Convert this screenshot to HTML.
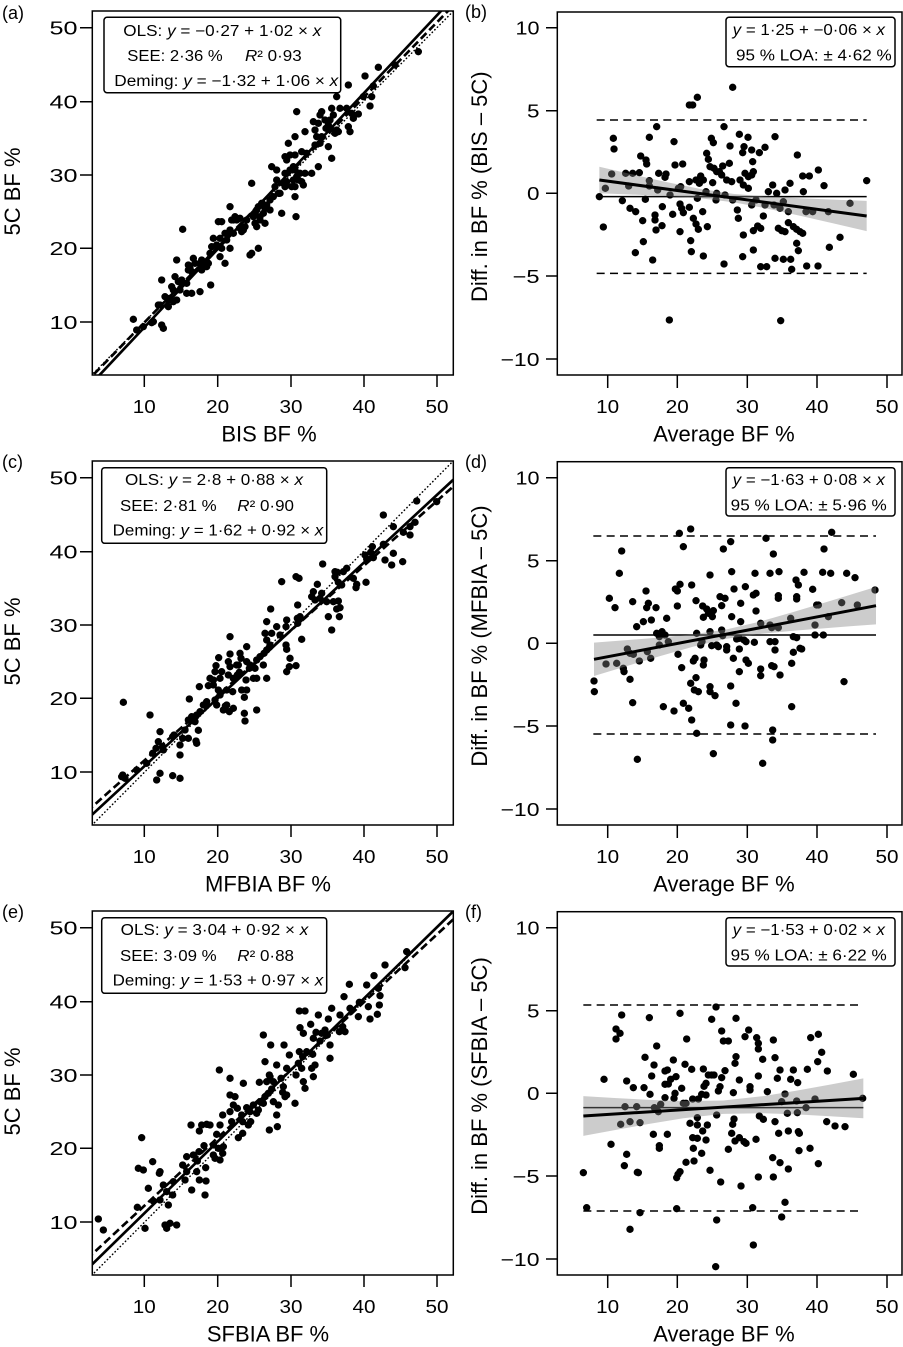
<!DOCTYPE html>
<html><head><meta charset="utf-8"><style>html,body{margin:0;padding:0;background:#fff}svg{display:block}</style></head>
<body>
<svg xmlns="http://www.w3.org/2000/svg" width="903" height="1347" viewBox="0 0 903 1347" font-family="'Liberation Sans', Arial, Helvetica, sans-serif">
<rect width="903" height="1347" fill="#fff"/>
<defs>
<clipPath id="cl1"><rect x="277" y="33" width="1083" height="1092"/></clipPath>
<clipPath id="cl2"><rect x="278" y="48" width="1080" height="1092"/></clipPath>
</defs>

<!-- ===== Panel (a) ===== -->
<g transform="scale(0.333333)">
<path fill="none" stroke="#000" stroke-width="22" stroke-linecap="round" d="M1255 155h.1M1185 195h.1M1135 202h.1M1095 228h.1M1045 255h.1M1120 258h.1M1115 290h.1M1110 318h.1M1075 342h.1M1090 290h.1M1010 290h.1M1020 325h.1M1040 325h.1M1055 340h.1M1050 395h.1M1060 355h.1M1045 380h.1M995 325h.1M1000 345h.1M965 335h.1M960 345h.1M975 360h.1M985 375h.1M990 360h.1M1010 390h.1M1015 395h.1M1005 400h.1M978 385h.1M955 370h.1M945 390h.1M940 365h.1M950 410h.1M965 410h.1M960 430h.1M945 435h.1M985 440h.1M995 475h.1M955 500h.1M935 520h.1M915 395h.1M890 335h.1M885 410h.1M865 430h.1M920 460h.1M905 455h.1M885 465h.1M870 465h.1M860 480h.1M855 470h.1M880 500h.1M870 510h.1M885 510h.1M890 530h.1M900 520h.1M905 545h.1M910 555h.1M915 520h.1M895 540h.1M880 540h.1M875 560h.1M885 560h.1M885 590h.1M888 650h.1M855 520h.1M850 550h.1M855 560h.1M860 545h.1M830 540h.1M825 560h.1M815 500h.1M830 510h.1M840 580h.1M845 640h.1M835 580h.1M820 590h.1M810 600h.1M800 615h.1M810 630h.1M795 625h.1M790 640h.1M785 610h.1M775 620h.1M780 650h.1M770 630h.1M765 640h.1M755 550h.1M760 650h.1M765 670h.1M780 660h.1M795 670h.1M770 680h.1M755 760h.1M750 765h.1M775 745h.1M740 660h.1M735 680h.1M730 690h.1M725 695h.1M720 685h.1M720 655h.1M710 660h.1M700 660h.1M705 650h.1M695 660h.1M690 620h.1M690 690h.1M685 700h.1M700 700h.1M690 745h.1M680 720h.1M675 700h.1M665 745h.1M660 715h.1M655 665h.1M665 665h.1M650 735h.1M660 770h.1M675 790h.1M640 715h.1M635 740h.1M630 760h.1M625 790h.1M620 800h.1M615 795h.1M605 780h.1M600 790h.1M605 810h.1M585 790h.1M580 775h.1M575 815h.1M570 805h.1M565 795h.1M565 810h.1M560 850h.1M548 688h.1M545 840h.1M530 780h.1M535 845h.1M525 830h.1M520 870h.1M510 895h.1M515 860h.1M505 920h.1M495 890h.1M485 840h.1M480 915h.1M475 915h.1M460 965h.1M485 975h.1M490 985h.1M455 968h.1M430 980h.1M410 990h.1M400 958h.1M600 875h.1M632 855h.1M575 880h.1M560 880h.1M540 870h.1M530 900h.1M520 905h.1M505 900h.1"/>
<g clip-path="url(#cl1)" fill="none" stroke="#000">
<line x1="257.4" y1="1142.6" x2="1398.8" y2="-5.5" stroke-width="4.5" stroke-dasharray="1 10" stroke-linecap="round"/>
<line x1="257.4" y1="1147.7" x2="1398.8" y2="-23.4" stroke-width="8" stroke-dasharray="24 12"/>
<line x1="257.4" y1="1169.1" x2="1398.8" y2="-47.9" stroke-width="8"/>
</g>
</g>

<!-- ===== Panel (c) ===== -->
<g transform="translate(0,445) scale(0.333333)">
<path fill="none" stroke="#000" stroke-width="22" stroke-linecap="round" d="M1150 210h.1M1250 168h.1M1310 170h.1M1230 270h.1M1245 232h.1M1230 245h.1M1180 245h.1M1210 262h.1M1150 298h.1M1117 305h.1M1112 322h.1M1100 342h.1M1095 330h.1M1120 338h.1M1180 325h.1M1155 345h.1M1175 360h.1M1208 350h.1M1098 412h.1M1070 418h.1M1068 428h.1M1060 400h.1M1040 370h.1M1030 380h.1M1012 382h.1M1005 395h.1M1015 412h.1M1025 420h.1M968 357h.1M952 418h.1M940 440h.1M965 445h.1M935 455h.1M945 465h.1M1005 380h.1M1010 492h.1M1020 488h.1M1018 515h.1M995 555h.1M985 515h.1M1000 470h.1M1015 468h.1M980 470h.1M960 460h.1M845 410h.1M888 395h.1M897 400h.1M893 480h.1M892 520h.1M893 535h.1M900 515h.1M905 583h.1M888 662h.1M868 665h.1M860 680h.1M870 640h.1M860 613h.1M858 600h.1M860 525h.1M858 545h.1M840 570h.1M830 545h.1M815 565h.1M812 492h.1M800 530h.1M795 565h.1M800 585h.1M810 600h.1M808 607h.1M800 615h.1M792 625h.1M780 635h.1M770 645h.1M765 670h.1M790 660h.1M800 700h.1M770 700h.1M760 700h.1M748 670h.1M750 660h.1M740 605h.1M740 650h.1M738 705h.1M725 735h.1M740 735h.1M733 757h.1M733 805h.1M735 828h.1M770 795h.1M718 682h.1M715 660h.1M710 660h.1M712 690h.1M700 700h.1M690 665h.1M685 690h.1M680 735h.1M660 700h.1M665 680h.1M685 650h.1M690 627h.1M690 575h.1M720 625h.1M723 640h.1M698 740h.1M700 790h.1M680 780h.1M688 800h.1M670 795h.1M660 750h.1M655 735h.1M645 765h.1M650 780h.1M640 720h.1M630 700h.1M656 638h.1M648 662h.1M645 680h.1M640 705h.1M625 722h.1M620 770h.1M610 780h.1M600 800h.1M590 810h.1M585 830h.1M595 856h.1M598 725h.1M575 815h.1M565 825h.1M565 880h.1M588 888h.1M590 895h.1M555 855h.1M548 880h.1M540 930h.1M540 900h.1M522 870h.1M518 875h.1M480 860h.1M475 890h.1M488 905h.1M490 915h.1M468 910h.1M458 925h.1M440 955h.1M410 975h.1M368 990h.1M375 1000h.1M365 995h.1M370 772h.1M450 810h.1M470 1005h.1M480 985h.1M518 992h.1M540 1000h.1M568 762h.1M676 783h.1"/>
<g clip-path="url(#cl2)" fill="none" stroke="#000">
<line x1="260" y1="1156.4" x2="1397.5" y2="9.8" stroke-width="4.5" stroke-dasharray="1 10" stroke-linecap="round"/>
<line x1="260" y1="1100" x2="1397.5" y2="90.9" stroke-width="8" stroke-dasharray="24 12"/>
<line x1="260" y1="1124.2" x2="1397.5" y2="69.3" stroke-width="8"/>
</g>
</g>

<!-- ===== Panel (e) ===== -->
<g transform="translate(0,895) scale(0.333333)">
<path fill="none" stroke="#000" stroke-width="22" stroke-linecap="round" d="M1220 170h.1M1215 218h.1M1155 210h.1M1122 242h.1M1135 280h.1M1140 302h.1M1138 330h.1M1132 358h.1M1105 335h.1M1110 372h.1M1100 270h.1M1048 268h.1M1032 305h.1M1078 322h.1M1075 365h.1M1050 340h.1M1020 360h.1M1028 395h.1M1035 410h.1M1018 410h.1M995 340h.1M985 372h.1M990 450h.1M990 490h.1M975 405h.1M955 360h.1M948 412h.1M940 430h.1M960 438h.1M965 415h.1M982 420h.1M915 348h.1M898 348h.1M900 398h.1M910 415h.1M932 388h.1M908 485h.1M905 520h.1M910 560h.1M915 580h.1M935 520h.1M945 510h.1M940 545h.1M938 478h.1M920 470h.1M898 470h.1M895 505h.1M888 540h.1M885 625h.1M868 480h.1M852 450h.1M850 575h.1M855 605h.1M860 600h.1M848 592h.1M860 520h.1M843 550h.1M820 560h.1M830 510h.1M812 450h.1M790 420h.1M795 500h.1M800 560h.1M808 540h.1M815 582h.1M805 595h.1M795 605h.1M790 625h.1M820 620h.1M835 630h.1M830 660h.1M832 695h.1M808 705h.1M810 545h.1M780 620h.1M775 645h.1M770 655h.1M760 630h.1M750 650h.1M740 638h.1M778 562h.1M752 680h.1M745 690h.1M728 680h.1M728 715h.1M715 728h.1M730 565h.1M725 660h.1M712 640h.1M700 630h.1M695 680h.1M690 650h.1M690 600h.1M705 605h.1M690 550h.1M658 525h.1M668 660h.1M660 690h.1M650 718h.1M655 760h.1M640 750h.1M640 780h.1M660 795h.1M668 775h.1M670 755h.1M645 790h.1M630 690h.1M620 688h.1M605 690h.1M598 708h.1M612 752h.1M597 770h.1M592 798h.1M573 690h.1M580 780h.1M590 830h.1M617 818h.1M598 855h.1M618 858h.1M615 900h.1M575 885h.1M560 830h.1M555 855h.1M548 810h.1M560 785h.1M520 860h.1M518 900h.1M500 890h.1M490 870h.1M505 930h.1M510 985h.1M495 990h.1M480 915h.1M460 918h.1M445 880h.1M430 825h.1M415 820h.1M425 728h.1M480 830h.1M458 800h.1M478 835h.1M412 937h.1M435 1000h.1M295 972h.1M310 1005h.1M500 1000h.1M530 990h.1"/>
<g clip-path="url(#cl2)" fill="none" stroke="#000">
<line x1="260" y1="1156.4" x2="1397.5" y2="9.8" stroke-width="4.5" stroke-dasharray="1 10" stroke-linecap="round"/>
<line x1="260" y1="1092.9" x2="1397.5" y2="38" stroke-width="8" stroke-dasharray="24 12"/>
<line x1="260" y1="1124" x2="1397.5" y2="11.8" stroke-width="8"/>
</g>
</g>

<!-- ===== Panel (b) ===== -->
<g transform="translate(450,0) scale(0.333333)">
<g fill="none" stroke="#000" stroke-width="4.5">
<line x1="440" y1="590" x2="1250" y2="590"/>
<line x1="440" y1="360" x2="1250" y2="360" stroke-dasharray="24 16"/>
<line x1="440" y1="820" x2="1250" y2="820" stroke-dasharray="24 16"/>
</g>
<path fill="none" stroke="#000" stroke-width="22" stroke-linecap="round" d="M848 262h.1M742 292h.1M718 315h.1M728 315h.1M822 380h.1M620 380h.1M598 412h.1M490 415h.1M672 425h.1M784 415h.1M790 428h.1M868 403h.1M894 412h.1M975 410h.1M840 438h.1M882 440h.1M945 442h.1M492 447h.1M572 468h.1M588 480h.1M590 492h.1M770 460h.1M775 478h.1M928 458h.1M878 458h.1M905 450h.1M1042 465h.1M908 485h.1M675 495h.1M698 492h.1M780 500h.1M792 505h.1M818 498h.1M838 490h.1M800 515h.1M808 515h.1M910 515h.1M885 520h.1M895 530h.1M905 525h.1M1105 510h.1M1058 528h.1M1078 528h.1M1122 557h.1M485 522h.1M527 520h.1M548 520h.1M568 518h.1M626 520h.1M648 522h.1M645 532h.1M598 542h.1M598 558h.1M718 545h.1M738 540h.1M752 528h.1M760 540h.1M748 550h.1M788 548h.1M815 525h.1M830 540h.1M845 545h.1M870 540h.1M880 555h.1M895 565h.1M968 555h.1M1020 550h.1M1005 570h.1M955 575h.1M980 580h.1M1060 575h.1M448 590h.1M466 565h.1M536 558h.1M517 602h.1M586 598h.1M623 570h.1M660 585h.1M685 565h.1M692 560h.1M742 595h.1M768 575h.1M800 580h.1M798 600h.1M825 585h.1M848 600h.1M862 630h.1M865 655h.1M918 600h.1M905 615h.1M945 615h.1M972 615h.1M1000 605h.1M990 625h.1M1015 635h.1M1068 635h.1M1088 635h.1M1135 635h.1M1200 610h.1M1250 542h.1M540 625h.1M557 635h.1M578 662h.1M615 645h.1M615 660h.1M618 690h.1M636 677h.1M637 620h.1M668 643h.1M690 612h.1M695 625h.1M700 638h.1M718 622h.1M730 655h.1M738 672h.1M745 688h.1M758 635h.1M772 680h.1M722 722h.1M724 755h.1M690 695h.1M608 780h.1M580 725h.1M556 758h.1M460 681h.1M880 705h.1M910 692h.1M923 678h.1M932 685h.1M940 648h.1M985 685h.1M995 692h.1M1005 695h.1M1015 668h.1M1030 680h.1M1040 688h.1M1050 695h.1M1058 700h.1M1040 730h.1M1045 752h.1M1170 712h.1M1138 742h.1M878 770h.1M910 750h.1M975 775h.1M1000 778h.1M1022 778h.1M760 768h.1M822 792h.1M932 800h.1M950 800h.1M1025 808h.1M1070 798h.1M1104 798h.1M658 960h.1M992 962h.1"/>
<polygon fill="#808080" fill-opacity="0.4" points="448,500.2 550,523.7 650,546.2 750,566.7 850,581.8 950,589.7 1050,594.8 1150,598.9 1250,602.5 1250,693.5 1150,670.3 1050,647.4 950,625.5 850,606.6 750,594.7 650,588.2 550,583.7 448,579.8"/>
<line x1="448" y1="540" x2="1250" y2="648" stroke="#000" stroke-width="9"/>
</g>

<!-- ===== Panel (d) ===== -->
<g transform="translate(450,445) scale(0.333333)">
<g fill="none" stroke="#000" stroke-width="4.5">
<line x1="430" y1="570" x2="1278" y2="570"/>
<line x1="430" y1="273" x2="1278" y2="273" stroke-dasharray="24 16"/>
<line x1="430" y1="867" x2="1278" y2="867" stroke-dasharray="24 16"/>
</g>
<path fill="none" stroke="#000" stroke-width="22" stroke-linecap="round" d="M722 252h.1M688 265h.1M948 280h.1M1145 262h.1M700 305h.1M820 312h.1M842 290h.1M515 318h.1M970 327h.1M1122 312h.1M508 385h.1M780 390h.1M845 380h.1M915 385h.1M960 385h.1M987 380h.1M1062 382h.1M1118 382h.1M1142 385h.1M1190 385h.1M1215 398h.1M1275 435h.1M1175 473h.1M1222 480h.1M478 460h.1M495 488h.1M548 470h.1M588 438h.1M595 475h.1M590 488h.1M618 488h.1M604 525h.1M580 530h.1M560 545h.1M650 520h.1M636 560h.1M628 575h.1M645 570h.1M655 590h.1M628 600h.1M676 432h.1M682 438h.1M690 418h.1M725 420h.1M682 483h.1M738 467h.1M758 483h.1M770 492h.1M790 497h.1M760 517h.1M787 515h.1M775 505h.1M810 455h.1M825 460h.1M815 482h.1M845 515h.1M852 432h.1M872 475h.1M886 425h.1M918 445h.1M918 498h.1M872 530h.1M815 555h.1M818 572h.1M800 600h.1M785 602h.1M805 605h.1M780 560h.1M740 565h.1M756 590h.1M752 600h.1M830 605h.1M830 615h.1M850 640h.1M860 582h.1M868 580h.1M882 585h.1M932 535h.1M960 540h.1M965 548h.1M960 590h.1M975 590h.1M985 548h.1M985 460h.1M985 452h.1M1022 520h.1M1030 575h.1M1040 578h.1M1040 455h.1M1038 405h.1M1045 420h.1M1040 462h.1M1050 610h.1M1055 612h.1M1030 622h.1M1025 655h.1M1088 433h.1M1100 480h.1M1105 480h.1M1095 540h.1M1095 570h.1M1120 570h.1M1135 515h.1M990 690h.1M975 615h.1M972 665h.1M965 662h.1M932 672h.1M932 692h.1M913 592h.1M888 590h.1M888 645h.1M895 655h.1M868 680h.1M868 612h.1M842 723h.1M858 775h.1M842 840h.1M885 843h.1M938 955h.1M968 855h.1M968 885h.1M790 926h.1M740 865h.1M725 825h.1M716 790h.1M700 775h.1M672 798h.1M640 785h.1M548 773h.1M540 703h.1M522 680h.1M520 670h.1M500 655h.1M468 657h.1M432 708h.1M433 740h.1M568 648h.1M550 628h.1M532 612h.1M540 625h.1M592 620h.1M602 640h.1M620 565h.1M684 628h.1M695 668h.1M735 640h.1M730 648h.1M738 698h.1M733 735h.1M722 715h.1M745 740h.1M762 645h.1M760 660h.1M780 725h.1M780 740h.1M795 752h.1M1025 785h.1M1182 710h.1M562 943h.1M910 450h.1"/>
<polygon fill="#808080" fill-opacity="0.4" points="432,592.9 530,585.5 630,577.4 730,567.9 830,553.3 930,529.7 1030,501.1 1130,471.1 1200,449.7 1278,425.8 1278,538.2 1200,543.9 1130,549.3 1030,557.3 930,566.9 830,581.3 730,604.7 630,633.2 530,663.3 432,693.1"/>
<line x1="432" y1="643" x2="1278" y2="482" stroke="#000" stroke-width="9"/>
</g>

<!-- ===== Panel (f) ===== -->
<g transform="translate(450,895) scale(0.333333)">
<g fill="none" stroke="#000" stroke-width="4.5">
<line x1="400" y1="638" x2="1240" y2="638"/>
<line x1="400" y1="330" x2="1225" y2="330" stroke-dasharray="24 16"/>
<line x1="400" y1="948" x2="1225" y2="948" stroke-dasharray="24 16"/>
</g>
<path fill="none" stroke="#000" stroke-width="22" stroke-linecap="round" d="M798 336h.1M690 355h.1M515 360h.1M598 368h.1M785 373h.1M858 370h.1M498 402h.1M510 415h.1M498 432h.1M815 408h.1M896 405h.1M885 425h.1M920 428h.1M925 445h.1M710 432h.1M820 438h.1M835 438h.1M970 435h.1M1082 428h.1M1105 418h.1M620 453h.1M925 462h.1M585 487h.1M858 485h.1M855 505h.1M938 493h.1M975 488h.1M1115 472h.1M1103 500h.1M670 495h.1M612 510h.1M705 508h.1M725 523h.1M760 522h.1M775 540h.1M785 540h.1M792 540h.1M825 527h.1M990 525h.1M1030 525h.1M1072 523h.1M1132 528h.1M1210 538h.1M605 543h.1M645 528h.1M652 525h.1M815 548h.1M868 555h.1M925 543h.1M982 550h.1M1022 553h.1M1043 563h.1M462 553h.1M530 558h.1M550 578h.1M582 578h.1M600 598h.1M662 553h.1M678 545h.1M695 580h.1M645 568h.1M655 567h.1M768 565h.1M762 574h.1M810 575h.1M805 588h.1M850 593h.1M900 575h.1M900 585h.1M952 590h.1M1005 597h.1M1095 612h.1M1238 610h.1M675 595h.1M672 610h.1M645 608h.1M755 598h.1M768 600h.1M745 612h.1M728 612h.1M708 625h.1M525 635h.1M560 635h.1M613 638h.1M632 628h.1M625 650h.1M700 625h.1M995 620h.1M1040 618h.1M1068 638h.1M1012 655h.1M1042 653h.1M742 668h.1M800 660h.1M852 672h.1M928 663h.1M940 673h.1M540 680h.1M512 688h.1M570 683h.1M742 690h.1M772 690h.1M720 685h.1M848 688h.1M845 715h.1M975 680h.1M1130 680h.1M1155 693h.1M1185 695h.1M610 718h.1M652 718h.1M758 708h.1M768 735h.1M742 730h.1M728 728h.1M855 738h.1M868 728h.1M882 740h.1M888 745h.1M918 733h.1M986 715h.1M1015 708h.1M1045 710h.1M1048 715h.1M483 748h.1M628 752h.1M628 760h.1M730 760h.1M755 775h.1M835 763h.1M1047 767h.1M1080 760h.1M530 778h.1M968 788h.1M990 803h.1M1105 806h.1M523 812h.1M708 802h.1M732 798h.1M1015 822h.1M780 826h.1M562 832h.1M565 833h.1M690 830h.1M684 838h.1M680 848h.1M925 846h.1M970 846h.1M812 861h.1M873 873h.1M400 833h.1M410 938h.1M680 941h.1M570 953h.1M908 938h.1M1005 922h.1M995 966h.1M800 975h.1M540 1003h.1M910 1050h.1M797 1115h.1"/>
<polygon fill="#808080" fill-opacity="0.4" points="400,603.2 500,609.3 600,614.7 700,618.4 820,616.5 940,603.2 1040,586.9 1140,568.9 1240,550.2 1240,669.8 1140,663.7 1040,658.3 940,654.6 820,656.5 700,669.8 600,686.1 500,704.1 400,722.8"/>
<line x1="400" y1="663" x2="1240" y2="610" stroke="#000" stroke-width="9"/>
</g>

<!-- ===== Frames and ticks ===== -->
<g fill="none" stroke="#000" stroke-width="1.5">
<rect x="92.3" y="11" width="361" height="364"/>
<rect x="92.3" y="461" width="361" height="364"/>
<rect x="92.3" y="911" width="361" height="364"/>
<rect x="557.3" y="12" width="344.7" height="363"/>
<rect x="557.3" y="461.7" width="344.7" height="363.3"/>
<rect x="557.3" y="911.7" width="344.7" height="363.3"/>
<path d="M80 27.7H92.3M80 101.7H92.3M80 175H92.3M80 248.3H92.3M80 322H92.3
M80 477.7H92.3M80 551.7H92.3M80 625H92.3M80 698.3H92.3M80 772H92.3
M80 927.7H92.3M80 1001.7H92.3M80 1075H92.3M80 1148.3H92.3M80 1222H92.3
M144.3 375V387M217.7 375V387M291 375V387M364 375V387M437 375V387
M144.3 825V837M217.7 825V837M291 825V837M364 825V837M437 825V837
M144.3 1275V1287M217.7 1275V1287M291 1275V1287M364 1275V1287M437 1275V1287
M546 27.7H557.3M546 110.7H557.3M546 193.3H557.3M546 276H557.3M546 359H557.3
M546 477.7H557.3M546 560.7H557.3M546 643.3H557.3M546 726H557.3M546 809H557.3
M546 927.7H557.3M546 1010.7H557.3M546 1093.3H557.3M546 1176H557.3M546 1259H557.3
M607.7 375V388M677.3 375V388M747.3 375V388M817 375V388M887 375V388
M607.7 825V838M677.3 825V838M747.3 825V838M817 825V838M887 825V838
M607.7 1275V1288M677.3 1275V1288M747.3 1275V1288M817 1275V1288M887 1275V1288"/>
<!-- legend boxes -->
<rect x="104" y="17.3" width="236.7" height="75.4" rx="3"/>
<rect x="101.7" y="467.7" width="225" height="75.6" rx="3"/>
<rect x="101.7" y="917.7" width="225" height="75.6" rx="3"/>
<rect x="726" y="17.3" width="169" height="49.4" rx="3"/>
<rect x="726" y="467.7" width="169" height="48.3" rx="3"/>
<rect x="726" y="917.7" width="169" height="48.3" rx="3"/>
</g>

<!-- ===== Text ===== -->
<g fill="#000" font-size="18">
<text x="2" y="19">(a)</text>
<text x="465" y="18">(b)</text>
<text x="2" y="468">(c)</text>
<text x="465" y="468">(d)</text>
<text x="2" y="918">(e)</text>
<text x="465" y="918">(f)</text>
</g>

<!-- left y tick labels -->
<g font-size="18.5" text-anchor="end" lengthAdjust="spacingAndGlyphs">
<text x="77.5" y="34.5" textLength="28" lengthAdjust="spacingAndGlyphs">50</text>
<text x="77.5" y="108.5" textLength="28" lengthAdjust="spacingAndGlyphs">40</text>
<text x="77.5" y="181.8" textLength="28" lengthAdjust="spacingAndGlyphs">30</text>
<text x="77.5" y="255.1" textLength="28" lengthAdjust="spacingAndGlyphs">20</text>
<text x="77.5" y="328.8" textLength="28" lengthAdjust="spacingAndGlyphs">10</text>
<text x="77.5" y="484.5" textLength="28" lengthAdjust="spacingAndGlyphs">50</text>
<text x="77.5" y="558.5" textLength="28" lengthAdjust="spacingAndGlyphs">40</text>
<text x="77.5" y="631.8" textLength="28" lengthAdjust="spacingAndGlyphs">30</text>
<text x="77.5" y="705.1" textLength="28" lengthAdjust="spacingAndGlyphs">20</text>
<text x="77.5" y="778.8" textLength="28" lengthAdjust="spacingAndGlyphs">10</text>
<text x="77.5" y="934.5" textLength="28" lengthAdjust="spacingAndGlyphs">50</text>
<text x="77.5" y="1008.5" textLength="28" lengthAdjust="spacingAndGlyphs">40</text>
<text x="77.5" y="1081.8" textLength="28" lengthAdjust="spacingAndGlyphs">30</text>
<text x="77.5" y="1155.1" textLength="28" lengthAdjust="spacingAndGlyphs">20</text>
<text x="77.5" y="1228.8" textLength="28" lengthAdjust="spacingAndGlyphs">10</text>
<!-- right y tick labels -->
<text x="539.5" y="34.5" textLength="24" lengthAdjust="spacingAndGlyphs">10</text>
<text x="539.5" y="117.5" textLength="12.5" lengthAdjust="spacingAndGlyphs">5</text>
<text x="539.5" y="200.1" textLength="12.5" lengthAdjust="spacingAndGlyphs">0</text>
<text x="539.5" y="282.8" textLength="27" lengthAdjust="spacingAndGlyphs">−5</text>
<text x="539.5" y="365.8" textLength="39" lengthAdjust="spacingAndGlyphs">−10</text>
<text x="539.5" y="484.5" textLength="24" lengthAdjust="spacingAndGlyphs">10</text>
<text x="539.5" y="567.5" textLength="12.5" lengthAdjust="spacingAndGlyphs">5</text>
<text x="539.5" y="650.1" textLength="12.5" lengthAdjust="spacingAndGlyphs">0</text>
<text x="539.5" y="732.8" textLength="27" lengthAdjust="spacingAndGlyphs">−5</text>
<text x="539.5" y="815.8" textLength="39" lengthAdjust="spacingAndGlyphs">−10</text>
<text x="539.5" y="934.5" textLength="24" lengthAdjust="spacingAndGlyphs">10</text>
<text x="539.5" y="1017.5" textLength="12.5" lengthAdjust="spacingAndGlyphs">5</text>
<text x="539.5" y="1100.1" textLength="12.5" lengthAdjust="spacingAndGlyphs">0</text>
<text x="539.5" y="1182.8" textLength="27" lengthAdjust="spacingAndGlyphs">−5</text>
<text x="539.5" y="1265.8" textLength="39" lengthAdjust="spacingAndGlyphs">−10</text>
</g>

<!-- x tick labels -->
<g font-size="18.5" text-anchor="middle">
<text x="144.3" y="413" textLength="23" lengthAdjust="spacingAndGlyphs">10</text>
<text x="217.7" y="413" textLength="23" lengthAdjust="spacingAndGlyphs">20</text>
<text x="291" y="413" textLength="23" lengthAdjust="spacingAndGlyphs">30</text>
<text x="364" y="413" textLength="23" lengthAdjust="spacingAndGlyphs">40</text>
<text x="437" y="413" textLength="23" lengthAdjust="spacingAndGlyphs">50</text>
<text x="144.3" y="863" textLength="23" lengthAdjust="spacingAndGlyphs">10</text>
<text x="217.7" y="863" textLength="23" lengthAdjust="spacingAndGlyphs">20</text>
<text x="291" y="863" textLength="23" lengthAdjust="spacingAndGlyphs">30</text>
<text x="364" y="863" textLength="23" lengthAdjust="spacingAndGlyphs">40</text>
<text x="437" y="863" textLength="23" lengthAdjust="spacingAndGlyphs">50</text>
<text x="144.3" y="1313" textLength="23" lengthAdjust="spacingAndGlyphs">10</text>
<text x="217.7" y="1313" textLength="23" lengthAdjust="spacingAndGlyphs">20</text>
<text x="291" y="1313" textLength="23" lengthAdjust="spacingAndGlyphs">30</text>
<text x="364" y="1313" textLength="23" lengthAdjust="spacingAndGlyphs">40</text>
<text x="437" y="1313" textLength="23" lengthAdjust="spacingAndGlyphs">50</text>
<text x="607.7" y="413" textLength="23" lengthAdjust="spacingAndGlyphs">10</text>
<text x="677.3" y="413" textLength="23" lengthAdjust="spacingAndGlyphs">20</text>
<text x="747.3" y="413" textLength="23" lengthAdjust="spacingAndGlyphs">30</text>
<text x="817" y="413" textLength="23" lengthAdjust="spacingAndGlyphs">40</text>
<text x="887" y="413" textLength="23" lengthAdjust="spacingAndGlyphs">50</text>
<text x="607.7" y="863" textLength="23" lengthAdjust="spacingAndGlyphs">10</text>
<text x="677.3" y="863" textLength="23" lengthAdjust="spacingAndGlyphs">20</text>
<text x="747.3" y="863" textLength="23" lengthAdjust="spacingAndGlyphs">30</text>
<text x="817" y="863" textLength="23" lengthAdjust="spacingAndGlyphs">40</text>
<text x="887" y="863" textLength="23" lengthAdjust="spacingAndGlyphs">50</text>
<text x="607.7" y="1313" textLength="23" lengthAdjust="spacingAndGlyphs">10</text>
<text x="677.3" y="1313" textLength="23" lengthAdjust="spacingAndGlyphs">20</text>
<text x="747.3" y="1313" textLength="23" lengthAdjust="spacingAndGlyphs">30</text>
<text x="817" y="1313" textLength="23" lengthAdjust="spacingAndGlyphs">40</text>
<text x="887" y="1313" textLength="23" lengthAdjust="spacingAndGlyphs">50</text>
</g>

<!-- axis titles -->
<g font-size="22" text-anchor="middle">
<text x="269" y="441.5">BIS BF %</text>
<text x="268" y="891.5">MFBIA BF %</text>
<text x="268" y="1341.5">SFBIA BF %</text>
<text x="724" y="441.5">Average BF %</text>
<text x="724" y="891.5">Average BF %</text>
<text x="724" y="1341.5">Average BF %</text>
<text transform="translate(20,191.5) rotate(-90)">5C BF %</text>
<text transform="translate(20,641.5) rotate(-90)">5C BF %</text>
<text transform="translate(20,1091.5) rotate(-90)">5C BF %</text>
<text transform="translate(487,186.7) rotate(-90)">Diff. in BF % (BIS – 5C)</text>
<text transform="translate(487,636) rotate(-90)">Diff. in BF % (MFBIA – 5C)</text>
<text transform="translate(487,1086) rotate(-90)">Diff. in BF % (SFBIA – 5C)</text>
</g>

<!-- legend texts -->
<g font-size="15.5">
<text x="123.3" y="36" textLength="198" lengthAdjust="spacingAndGlyphs">OLS: <tspan font-style="italic">y</tspan> = −0·27 + 1·02 × <tspan font-style="italic">x</tspan></text>
<text x="127.3" y="61" textLength="95.4" lengthAdjust="spacingAndGlyphs">SEE: 2·36 %</text>
<text x="245" y="61" textLength="56.7" lengthAdjust="spacingAndGlyphs"><tspan font-style="italic">R</tspan>² 0·93</text>
<text x="114.3" y="86" textLength="224" lengthAdjust="spacingAndGlyphs">Deming: <tspan font-style="italic">y</tspan> = −1·32 + 1·06 × <tspan font-style="italic">x</tspan></text>

<text x="125" y="485" textLength="178" lengthAdjust="spacingAndGlyphs">OLS: <tspan font-style="italic">y</tspan> = 2·8 + 0·88 × <tspan font-style="italic">x</tspan></text>
<text x="120" y="511" textLength="96.7" lengthAdjust="spacingAndGlyphs">SEE: 2·81 %</text>
<text x="237.3" y="511" textLength="56.7" lengthAdjust="spacingAndGlyphs"><tspan font-style="italic">R</tspan>² 0·90</text>
<text x="112.7" y="535.7" textLength="210.6" lengthAdjust="spacingAndGlyphs">Deming: <tspan font-style="italic">y</tspan> = 1·62 + 0·92 × <tspan font-style="italic">x</tspan></text>

<text x="120.7" y="935" textLength="187.6" lengthAdjust="spacingAndGlyphs">OLS: <tspan font-style="italic">y</tspan> = 3·04 + 0·92 × <tspan font-style="italic">x</tspan></text>
<text x="120" y="961" textLength="96.7" lengthAdjust="spacingAndGlyphs">SEE: 3·09 %</text>
<text x="237.3" y="961" textLength="56.7" lengthAdjust="spacingAndGlyphs"><tspan font-style="italic">R</tspan>² 0·88</text>
<text x="112.7" y="985.7" textLength="210.6" lengthAdjust="spacingAndGlyphs">Deming: <tspan font-style="italic">y</tspan> = 1·53 + 0·97 × <tspan font-style="italic">x</tspan></text>

<text x="732.7" y="35" textLength="152.3" lengthAdjust="spacingAndGlyphs"><tspan font-style="italic">y</tspan> = 1·25 + −0·06 × <tspan font-style="italic">x</tspan></text>
<text x="736" y="60.5" textLength="155.7" lengthAdjust="spacingAndGlyphs">95 % LOA: ± 4·62 %</text>
<text x="732.7" y="485" textLength="152.3" lengthAdjust="spacingAndGlyphs"><tspan font-style="italic">y</tspan> = −1·63 + 0·08 × <tspan font-style="italic">x</tspan></text>
<text x="730.7" y="510.5" textLength="156" lengthAdjust="spacingAndGlyphs">95 % LOA: ± 5·96 %</text>
<text x="732.7" y="935" textLength="152.3" lengthAdjust="spacingAndGlyphs"><tspan font-style="italic">y</tspan> = −1·53 + 0·02 × <tspan font-style="italic">x</tspan></text>
<text x="730.7" y="960.5" textLength="156" lengthAdjust="spacingAndGlyphs">95 % LOA: ± 6·22 %</text>
</g>
</svg>
</body></html>
